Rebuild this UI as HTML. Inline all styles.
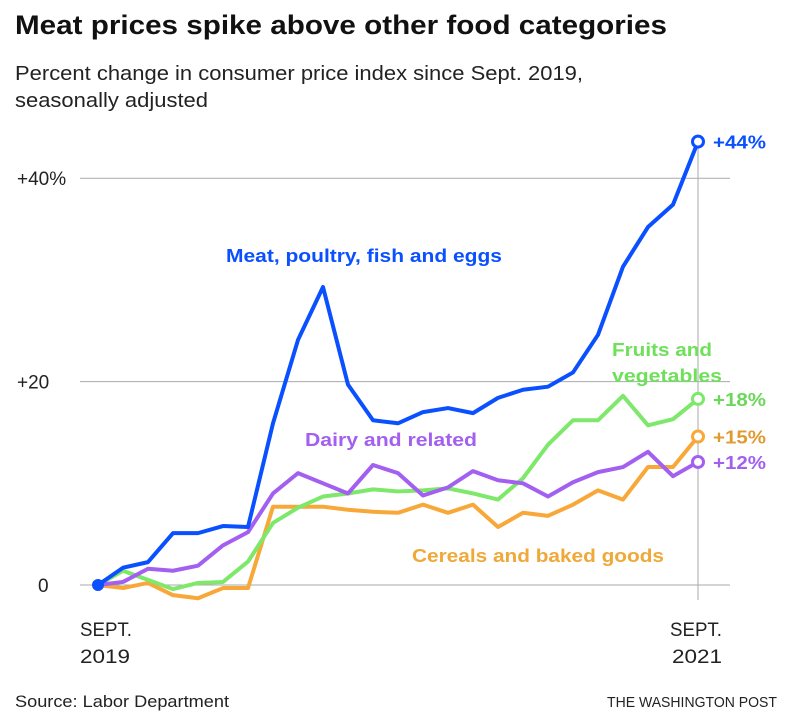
<!DOCTYPE html>
<html><head><meta charset="utf-8"><style>
body{margin:0;background:#fff;}
svg{display:block;font-family:"Liberation Sans",sans-serif;}
</style></head><body>
<svg id="chart" width="792" height="722" viewBox="0 0 792 722">
<text x="15" y="34" font-size="27" font-weight="bold" fill="#111" textLength="652" lengthAdjust="spacingAndGlyphs">Meat prices spike above other food categories</text>
<text x="15" y="80" font-size="20" fill="#222" textLength="568" lengthAdjust="spacingAndGlyphs">Percent change in consumer price index since Sept. 2019,</text>
<text x="15" y="107" font-size="20" fill="#222" textLength="193" lengthAdjust="spacingAndGlyphs">seasonally adjusted</text>
<g id="grid"></g>
<g id="lines"></g>
<g id="labels">
<text x="226" y="262" font-size="18" font-weight="bold" fill="#0a50ff" textLength="276" lengthAdjust="spacingAndGlyphs">Meat, poultry, fish and eggs</text>
<text x="305" y="446" font-size="18" font-weight="bold" fill="#a35ff0" textLength="172" lengthAdjust="spacingAndGlyphs">Dairy and related</text>
<text x="612" y="356" font-size="18" font-weight="bold" fill="#6ee05a" textLength="100" lengthAdjust="spacingAndGlyphs">Fruits and</text>
<text x="612" y="382" font-size="18" font-weight="bold" fill="#6ee05a" textLength="110" lengthAdjust="spacingAndGlyphs">vegetables</text>
<text x="412" y="562" font-size="18" font-weight="bold" fill="#f0a838" textLength="252" lengthAdjust="spacingAndGlyphs">Cereals and baked goods</text>
</g>
<text x="80" y="636" font-size="19" fill="#222" textLength="52" lengthAdjust="spacingAndGlyphs">SEPT.</text>
<text x="80" y="663" font-size="19" fill="#222" textLength="50" lengthAdjust="spacingAndGlyphs">2019</text>
<text x="670" y="636" font-size="19" fill="#222" textLength="52" lengthAdjust="spacingAndGlyphs">SEPT.</text>
<text x="672" y="663" font-size="19" fill="#222" textLength="50" lengthAdjust="spacingAndGlyphs">2021</text>
<text x="15" y="707" font-size="17" fill="#222" textLength="214" lengthAdjust="spacingAndGlyphs">Source: Labor Department</text>
<text x="777" y="707" font-size="15" fill="#222" text-anchor="end" textLength="170" lengthAdjust="spacingAndGlyphs">THE WASHINGTON POST</text>
</svg>
<script>
const months = 25;
const yTicks = [0, 20, 40];
const yTickLabels = ["0", "+20", "+40%"];
const meat = [0,1.7,2.25,5.1,5.1,5.8,5.7,15.9,24.1,29.3,19.7,16.2,15.9,17.0,17.4,16.9,18.4,19.2,19.5,20.9,24.6,31.3,35.2,37.4,43.6];
const dairy = [0,0.3,1.6,1.4,1.9,3.9,5.2,9.0,11.0,10.0,9.0,11.8,11.0,8.8,9.6,11.2,10.3,10.0,8.7,10.1,11.1,11.6,13.1,10.7,12.1];
const fruits = [0,1.4,0.5,-0.4,0.2,0.3,2.3,6.1,7.6,8.7,9.0,9.4,9.2,9.3,9.5,9.0,8.4,10.5,13.8,16.2,16.2,18.6,15.7,16.3,18.3];
const cereals = [0,-0.3,0.2,-1.0,-1.3,-0.3,-0.3,7.7,7.7,7.7,7.4,7.2,7.1,7.9,7.1,7.9,5.7,7.1,6.8,7.9,9.3,8.4,11.6,11.6,14.6];
const endLabels = ["+44%","+12%","+18%","+15%"];
const NS="http://www.w3.org/2000/svg";
const xs=i=>98+25*i;
const ys=v=>585-v*10.17;
const grid=document.getElementById('grid');
const lines=document.getElementById('lines');
function mk(tag,attrs,parent){const e=document.createElementNS(NS,tag);for(const k in attrs)e.setAttribute(k,attrs[k]);parent.appendChild(e);return e;}
yTicks.forEach((t,i)=>{
  const l=mk('line',{x1:80,x2:730,y1:ys(t),y2:ys(t),stroke:'#aaa','stroke-width':1},grid);
  
  
  const tx=mk('text',{x:t===0?38:17,y:ys(t)+7,'font-size':19,fill:'#222'},grid);
  tx.textContent=yTickLabels[i];
  
  
});
const vl=mk('line',{x1:xs(months-1),x2:xs(months-1),y1:142,y2:600,stroke:'#aaa','stroke-width':1},grid);


const series=[[cereals,'#f8a838','cereals',endLabels[3],'#e09a30'],[fruits,'#7de86a','fruits',endLabels[2],'#6ad858'],[dairy,'#a35ff0','dairy',endLabels[1],'#a35ff0'],[meat,'#0a50ff','meat',endLabels[0],'#0a50ff']];
series.forEach(([d,c,n,lab,tc])=>{
  const p=mk('polyline',{points:d.map((v,i)=>xs(i)+','+ys(v)).join(' '),fill:'none',stroke:c,'stroke-width':4,'stroke-linejoin':'round'},lines);
  
  
  const last=d.length-1;
  const cc=mk('circle',{cx:xs(last),cy:ys(d[last]),r:5.5,fill:'#fff',stroke:c,'stroke-width':3},lines);
  
  
  const t=mk('text',{x:xs(last)+15,y:ys(d[last])+7,'font-size':18,'font-weight':'bold',fill:tc,textLength:53,lengthAdjust:'spacingAndGlyphs'},lines);
  t.textContent=lab;
  
  
});
const s=mk('circle',{cx:xs(0),cy:ys(0),r:6,fill:'#0a50ff'},lines);


</script>
</body></html>
